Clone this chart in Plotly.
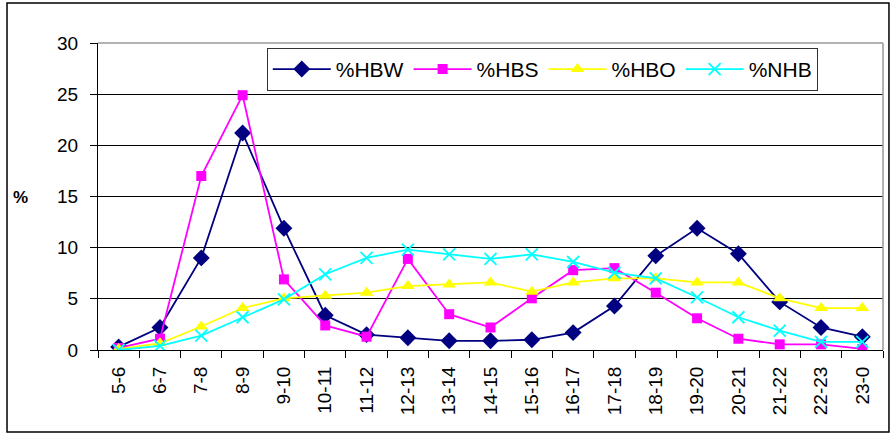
import plotly.graph_objects as go

categories = ["5-6", "6-7", "7-8", "8-9", "9-10", "10-11", "11-12", "12-13", "13-14", "14-15",
              "15-16", "16-17", "17-18", "18-19", "19-20", "20-21", "21-22", "22-23", "23-0"]
hbw = [0.3, 2.2, 9.0, 21.2, 11.9, 3.4, 1.5, 1.2, 0.9, 0.9, 1.0, 1.7, 4.3, 9.2, 11.9, 9.4, 4.7, 2.2, 1.3]
hbs = [0.2, 1.1, 17.0, 24.9, 6.9, 2.4, 1.3, 8.9, 3.5, 2.2, 5.05, 7.8, 8.0, 5.6, 3.1, 1.1, 0.55, 0.55, 0.1]
hbo = [0.1, 0.65, 2.3, 4.1, 5.05, 5.3, 5.6, 6.25, 6.4, 6.6, 5.7, 6.6, 7.0, 7.0, 6.6, 6.6, 5.05, 4.1, 4.1]
nhb = [0.0, 0.4, 1.4, 3.2, 4.95, 7.4, 9.0, 9.8, 9.35, 8.9, 9.35, 8.6, 7.55, 7.0, 5.15, 3.2, 1.9, 0.8, 0.8]
y_ticks = [0, 5, 10, 15, 20, 25, 30]

FONT = "Liberation Sans, Arial, sans-serif"

fig = go.Figure()
fig.add_trace(go.Scatter(x=categories, y=hbw, name="%HBW", mode="lines+markers",
                         line=dict(color="#000080", width=1.8),
                         marker=dict(symbol="diamond", size=13, color="#000080")))
fig.add_trace(go.Scatter(x=categories, y=hbs, name="%HBS", mode="lines+markers",
                         line=dict(color="#FF00FF", width=1.8),
                         marker=dict(symbol="square", size=10, color="#FF00FF")))
fig.add_trace(go.Scatter(x=categories, y=hbo, name="%HBO", mode="lines+markers",
                         line=dict(color="#FFFF00", width=1.8),
                         marker=dict(symbol="triangle-up", size=12, color="#FFFF00")))
fig.add_trace(go.Scatter(x=categories, y=nhb, name="%NHB", mode="lines+markers",
                         line=dict(color="#00FFFF", width=1.8),
                         marker=dict(symbol="x-thin", size=12, color="#00FFFF",
                                     line=dict(color="#00FFFF", width=1.8))))

fig.update_layout(
    width=890, height=435,
    margin=dict(l=98, r=7, t=43, b=85),
    paper_bgcolor="white", plot_bgcolor="white",
    font=dict(family=FONT, color="black"),
    showlegend=True,
    legend=dict(orientation="h", x=0.215, y=0.984, xanchor="left", yanchor="top",
                bordercolor="#333333", borderwidth=1, bgcolor="white",
                font=dict(size=21, family=FONT), itemwidth=58,
                tracegroupgap=0),
    xaxis=dict(type="category", tickangle=-90, tickfont=dict(size=19, family=FONT),
               showgrid=False, showline=True, linecolor="black", linewidth=1,
               ticks="outside", tickson="boundaries", ticklen=7, tickcolor="black",
               ticklabelstandoff=8,
               range=[-0.5, len(categories) - 0.5]),
    yaxis=dict(range=[0, 30], tickvals=y_ticks, tickfont=dict(size=19, family=FONT),
               showgrid=True, gridcolor="black", gridwidth=1,
               showline=True, linecolor="black", linewidth=1,
               ticks="outside", ticklen=7, tickcolor="black", zeroline=False,
               ticklabelstandoff=8),
    annotations=[dict(text="<b>%</b>", x=-0.099, y=0.498, xref="paper", yref="paper",
                      showarrow=False, font=dict(size=17, family=FONT),
                      xanchor="center", yanchor="middle")],
    shapes=[
        dict(type="line", xref="paper", yref="paper", x0=0, x1=1, y0=1, y1=1,
             line=dict(color="#999999", width=1.5), layer="above"),
        dict(type="line", xref="paper", yref="paper", x0=1, x1=1, y0=0, y1=1,
             line=dict(color="#999999", width=1.5), layer="above"),
        dict(type="rect", xref="paper", yref="paper", x0=-0.1159, x1=1.0076,
             y0=-0.267, y1=1.130, line=dict(color="black", width=1.5), layer="above"),
    ],
)

fig.write_html("out.html", config={"displayModeBar": False},
               post_script="document.body.style.margin='0';")
